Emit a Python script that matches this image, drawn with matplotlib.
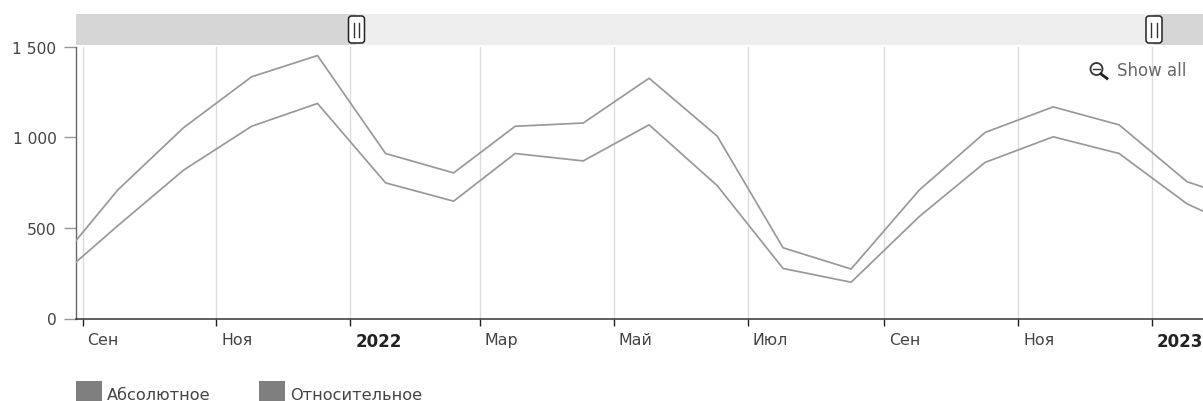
import matplotlib
matplotlib.use("Agg")
import matplotlib.pyplot as plt
import matplotlib.dates as mdates
from matplotlib.patches import Rectangle, FancyBboxPatch
from matplotlib.lines import Line2D
from datetime import date

plt.rcParams['font.family'] = ['DejaVu Sans']

W, H = 1203, 402

dates = ["2021-08-17", "2021-09-17", "2021-10-17", "2021-11-17", "2021-12-17",
         "2022-01-17", "2022-02-17", "2022-03-17", "2022-04-17", "2022-05-17",
         "2022-06-17", "2022-07-17", "2022-08-17", "2022-09-17", "2022-10-17",
         "2022-11-17", "2022-12-17", "2023-01-17", "2023-02-17"]
absolute = [253, 708, 1052, 1333, 1450, 910, 803, 1060, 1078, 1325, 1006, 390, 273,
            708, 1026, 1167, 1068, 754, 629]
relative = [184, 511, 818, 1060, 1186, 748, 647, 910, 869, 1068, 733, 276, 200,
            562, 861, 1002, 910, 632, 460]
tick_dates = ["2021-09-01", "2021-11-01", "2022-01-01", "2022-03-01", "2022-05-01",
              "2022-07-01", "2022-09-01", "2022-11-01", "2023-01-01"]
tick_labels = ["Сен", "Ноя", "2022", "Мар", "Май", "Июл", "Сен", "Ноя", "2023"]
bold_ticks = {"2022", "2023"}
y_ticks = [0, 500, 1000, 1500]
y_tick_labels = ["0", "500", "1 000", "1 500"]
legend_names = ["Абсолютное", "Относительное"]


def num(s):
    return mdates.date2num(date.fromisoformat(s))


xd = [num(d) for d in dates]
tx = [num(d) for d in tick_dates]

fig = plt.figure(figsize=(W / 100, H / 100), dpi=100)
L, R, T, B = 76, 1203, 47.5, 319.5
ax = fig.add_axes([L / W, 1 - B / H, (R - L) / W, (B - T) / H])

# x scale from tick pixel positions: Sep 2021 at 82.5, Jan 2023 at 1152
ppd = (1152 - 82.5) / (tx[-1] - tx[0])
ax.set_xlim(tx[0] - (82.5 - L) / ppd, tx[0] + (R - 82.5) / ppd)
ax.set_ylim(0, 1500)

for t in tx:
    ax.axvline(t, color="#dcdcdc", lw=1, zorder=1)

line_col = "#999999"
ax.plot(xd, absolute, color=line_col, lw=1.25, zorder=3)
ax.plot(xd, relative, color=line_col, lw=1.25, zorder=3)

for s in ("top", "right"):
    ax.spines[s].set_visible(False)
ax.spines["left"].set_color("#666666")
ax.spines["bottom"].set_color("#333333")
ax.spines["left"].set_linewidth(1)
ax.spines["bottom"].set_linewidth(1.1)

ax.set_xticks(tx)
ax.set_xticklabels(tick_labels, fontsize=11.4, color="#444444", ha="left")
for lab, name in zip(ax.get_xticklabels(), tick_labels):
    if name in bold_ticks:
        lab.set_fontweight("bold")
        lab.set_color("#222222")
        lab.set_fontsize(12)
ax.tick_params(axis="x", length=5, width=1, color="#222222", pad=5)
offset = matplotlib.transforms.ScaledTranslation(5 / 100, 0, fig.dpi_scale_trans)
for lab in ax.get_xticklabels():
    lab.set_transform(lab.get_transform() + offset)
ax.set_yticks(y_ticks)
ax.set_yticklabels(y_tick_labels, fontsize=11.2, color="#444444")
ax.tick_params(axis="y", length=9, width=1, color="#999999", pad=5)

# overlay in pixel coordinates
ov = fig.add_axes([0, 0, 1, 1], facecolor="none")
ov.set_xlim(0, W)
ov.set_ylim(H, 0)
ov.axis("off")

# scrollbar
ov.add_patch(Rectangle((76, 15), 1127, 31, fc="#d6d6d6", ec="none"))
ov.add_patch(Rectangle((356, 15), 798, 31, fc="#eeeeee", ec="none"))
for hx in (356.5, 1154):
    ov.add_patch(FancyBboxPatch((hx - 8, 17), 16, 27,
                                boxstyle="round,pad=0,rounding_size=3",
                                fc="white", ec="#222222", lw=1.1, zorder=5))
    for dx in (-2.7, 2.7):
        ov.add_line(Line2D([hx + dx, hx + dx], [24, 38], color="#333333", lw=1, zorder=6))

# show-all button
ov.add_patch(plt.Circle((1096.5, 70), 6, fc="white", ec="#333333", lw=1.3, zorder=5))
ov.add_line(Line2D([1093, 1100], [70, 70], color="#333333", lw=1, zorder=6))
ov.add_line(Line2D([1101, 1107], [75, 79.5], color="#222222", lw=2, zorder=5))
ov.text(1117, 70.5, "Show all", fontsize=12, color="#666666", va="center", ha="left", zorder=6)

# legend
for lx, name in zip((76, 259), legend_names):
    ov.add_patch(Rectangle((lx, 381.5), 26, 20.5, fc="#7f7f7f", ec="none"))
    ov.text(lx + 31, 395.5, name, fontsize=11.6, color="#444444", va="center", ha="left")

fig.savefig("out.png", dpi=100)
